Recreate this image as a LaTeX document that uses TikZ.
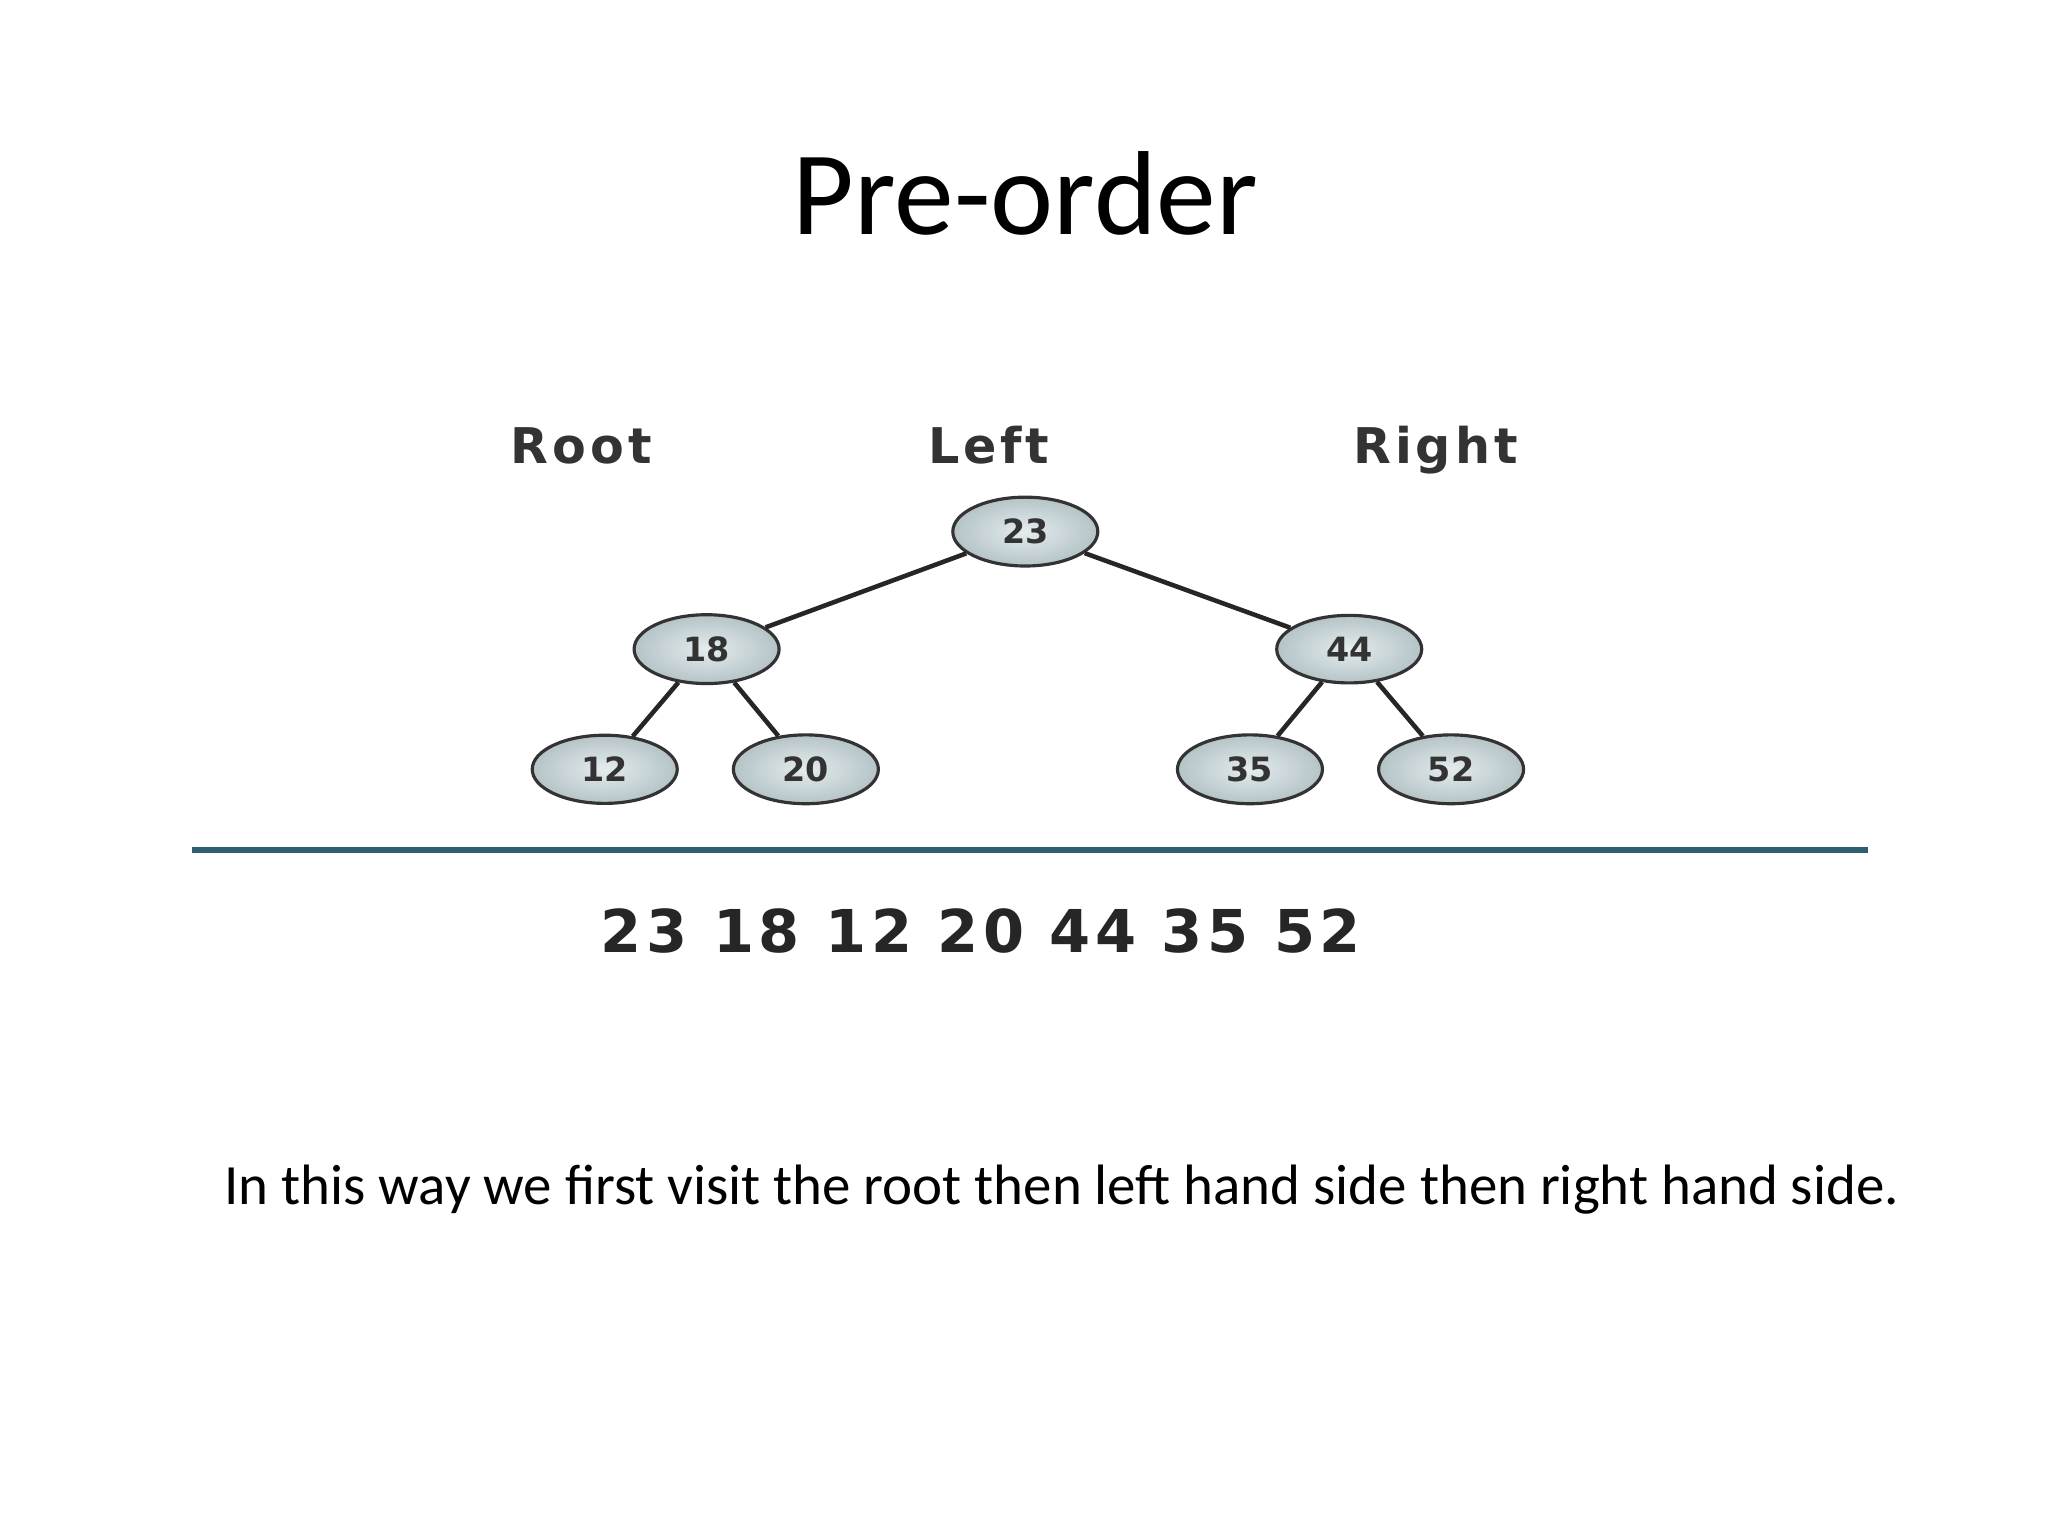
\documentclass[tikz,border=0pt]{standalone}
\usepackage{fontspec}
\setmainfont{Carlito}
\newfontfamily\dv{DejaVu Sans}
\newfontfamily\dvw{DejaVu Sans}[LetterSpace=8]
\usetikzlibrary{shapes.geometric}
\definecolor{nodefill}{HTML}{C9D9DD}
\definecolor{rule}{HTML}{2E5F70}
\begin{document}
\begin{tikzpicture}[x=0.013061cm,y=-0.013061cm,
  tn/.style={ellipse,draw=black!80,line width=0.9pt,inner color=nodefill!50,outer color=nodefill!90!black,minimum width=1.45cm,minimum height=0.65cm,font=\dv\bfseries\fontsize{9.5}{10}\selectfont,text=black!80},
  ed/.style={draw=black!85,line width=1.3pt},
  hd/.style={anchor=base,font=\dvw\bfseries\fontsize{14}{15}\selectfont,text=black!80}]
\useasboundingbox (0,0) rectangle (1568,1176);
\node (title) at (785,148) {\fontsize{34}{40}\selectfont Pre-order};
\node[hd] (root) at (445,355) {Root};
\node[hd] (left) at (757,355) {Left};
\node[hd] (right) at (1099,355) {Right};
\node[tn] (n23) at (785,407) {23};
\node[tn] (n18) at (541,497) {18};
\node[tn] (n44) at (1033,497) {44};
\node[tn] (n12) at (463,589) {12};
\node[tn] (n20) at (617,589) {20};
\node[tn] (n35) at (957,589) {35};
\node[tn] (n52) at (1111,589) {52};
\draw[ed] (n23) -- (n18);
\draw[ed] (n23) -- (n44);
\draw[ed] (n18) -- (n12);
\draw[ed] (n18) -- (n20);
\draw[ed] (n44) -- (n35);
\draw[ed] (n44) -- (n52);
\coordinate (ra) at (147,651);
\coordinate (rb) at (1430,651);
\draw[rule,line width=1.6pt] (ra) -- (rb);
\node[font=\dvw\bfseries\fontsize{16.8}{18}\selectfont,text=black!85] (seq) at (751,713) {23 18 12 20 44 35 52};
\node (desc) at (813,911) {\fontsize{16.2}{19}\selectfont In this way we first visit the root then left hand side then right hand side.};
\end{tikzpicture}
\end{document}
